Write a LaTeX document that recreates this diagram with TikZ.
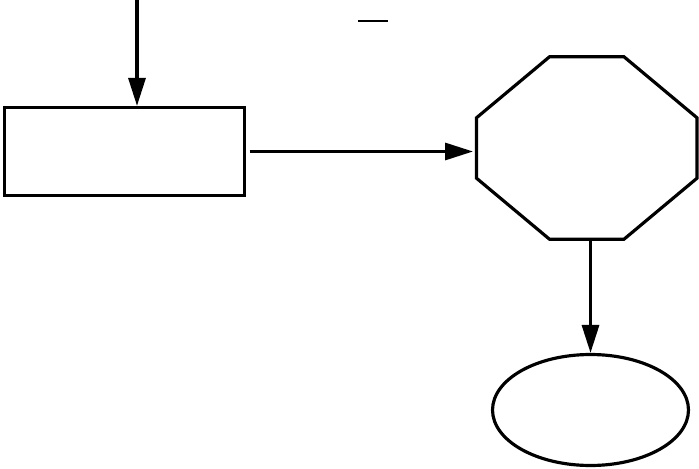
\documentclass[tikz,border=0pt]{standalone}
\usepackage{tikz}
\usetikzlibrary{shapes.geometric, arrows.meta, calc}
\tikzset{
  procbox/.style={
    rectangle, draw, line width=1.8pt,
    minimum width=4.8cm, minimum height=1.76cm, inner sep=0pt,
  },
  octbody/.style={
    rectangle, draw=none, inner sep=0pt, outer sep=0pt,
    minimum width=4.41cm, minimum height=3.65cm,
  },
  terminal/.style={
    ellipse, draw, line width=1.8pt,
    minimum width=3.92cm, minimum height=2.22cm, inner sep=0pt,
  },
  arrow/.style={-{Triangle[length=0.56cm, width=0.34cm]}, line width=1.8pt},
}

\begin{document}
\begin{tikzpicture}[x=0.02cm, y=-0.02cm]

  \useasboundingbox (0,0) rectangle (699,469);

  % Shapes
  \node[procbox] (process) at (124.5,151.5) {};
  \node[octbody] (stop)    at (586.75,148) {};
  \node[terminal] (term)   at (590.5,410) {};

  % Octagon outline round the stop node
  \draw[line width=1.8pt, line join=miter]
    ($(stop.north west)+(73,0)$) -- ($(stop.north east)+(-73,0)$)
    -- ($(stop.north east)+(0,61)$) -- ($(stop.south east)+(0,-61)$)
    -- ($(stop.south east)+(-73,0)$) -- ($(stop.south west)+(73,0)$)
    -- ($(stop.south west)+(0,-61)$) -- ($(stop.north west)+(0,61)$)
    -- cycle;

  % Arrows
  \coordinate (src) at (137,0);
  \draw[arrow] (src) -- (src |- process.north);
  \draw[arrow, shorten <=2pt, shorten >=2pt] (process.east) -- (process.east -| stop.west);
  \draw[arrow] (stop.south -| term.north) -- (term.north);

  % Short bar at the top
  \draw[line width=1.2pt] (358,21) -- (388,21);

\end{tikzpicture}
\end{document}
